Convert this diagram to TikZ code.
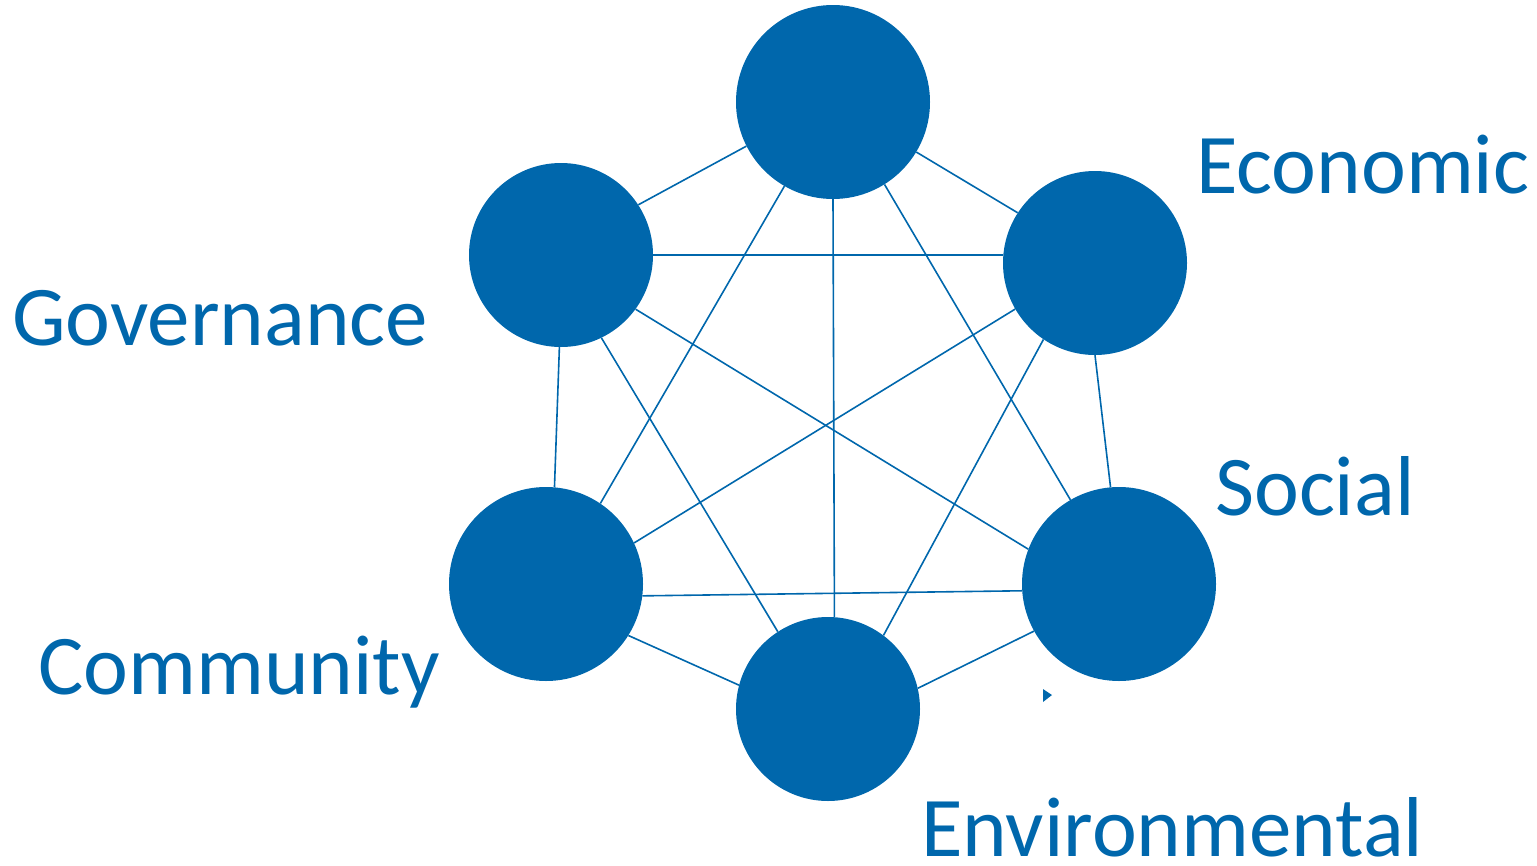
\documentclass[tikz,border=0pt]{standalone}
\usepackage{fontspec}
\setmainfont{Carlito}
\definecolor{cblue}{RGB}{0,103,172}
\begin{document}
\begin{tikzpicture}[x=1pt,y=-1pt,
  ball/.style={circle,fill=cblue,draw=none,inner sep=0pt,minimum size=#1},
  link/.style={draw=cblue,line width=1.6pt},
  lbl/.style={text=cblue,font=\fontsize{85}{85}\selectfont,inner sep=0pt,anchor=base west}]
\useasboundingbox (0,0) rectangle (1537,865);
% circles (drawn first as nodes; connectors go between border points)
\node[ball=194pt] (top) at (833,102) {};
\node[ball=184pt] (gov) at (561,255) {};
\node[ball=184pt] (eco) at (1095,263) {};
\node[ball=194pt] (com) at (546,584) {};
\node[ball=194pt] (soc) at (1119,584) {};
\node[ball=184pt] (env) at (828,709) {};
% connectors
\draw[link] (top.207.4) -- (gov.33);
\draw[link] (top.-31.6) -- (eco.147.3);
\draw[link] (top.240.5) -- (com.56.3);
\draw[link] (top.-58.9) -- (soc.120.8);
\draw[link] (top.270) -- (env.86.9);
\draw[link] (gov.0) -- (eco.175);
\draw[link] (gov.269.4) -- (com.85.8);
\draw[link] (gov.-36.6) -- (soc.159);
\draw[link] (gov.-64.2) -- (env.123.9);
\draw[link] (eco.210.8) -- (com.25);
\draw[link] (eco.270) -- (soc.95.3);
\draw[link] (eco.236.8) -- (env.53);
\draw[link] (com.-7.6) -- (soc.184.1);
\draw[link] (com.-32.7) -- (env.165.4);
\draw[link] (soc.209) -- (env.13.9);
% small mark
\fill[cblue] (1043,689) -- (1052,695) -- (1043,702) -- cycle;
% labels
\node[lbl] (leco) at (1196,193) {Economic};
\node[lbl] (lgov) at (12,345) {Governance};
\node[lbl] (lsoc) at (1215,515) {Social};
\node[lbl] (lcom) at (38,694) {Community};
\node[lbl] (lenv) at (921,856) {Environmental};
\end{tikzpicture}
\end{document}
